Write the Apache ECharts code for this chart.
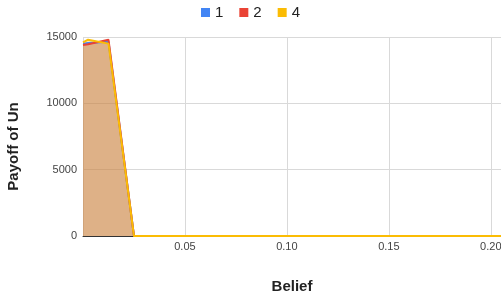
<!DOCTYPE html>
<html>
<head>
<meta charset="utf-8">
<script src="https://cdn.jsdelivr.net/npm/echarts@6/dist/echarts.min.js"></script>
<style>
  html, body { margin: 0; padding: 0; background: #fff; }
  #chart { width: 501px; height: 300px; }
</style>
</head>
<body>
<div id="chart"></div>
<script>
var belief = [0, 0.0025, 0.0125, 0.025, 0.05, 0.1, 0.15, 0.2, 0.205];
var payoff1 = [14500, 14550, 14650, 0, 0, 0, 0, 0, 0];
var payoff2 = [14400, 14450, 14800, 0, 0, 0, 0, 0, 0];
var payoff4 = [14600, 14800, 14500, 0, 0, 0, 0, 0, 0];
var seriesNames = ["1", "2", "4"];
var colors = ["#4285f4", "#ea4335", "#fbbc04"];

function pairs(ys) {
  return belief.map(function (x, i) { return [x, ys[i]]; });
}

var myChart = echarts.init(document.getElementById("chart"));

var allData = [payoff1, payoff2, payoff4];
var series = allData.map(function (ys, i) {
  return {
    name: seriesNames[i],
    type: "line",
    data: pairs(ys),
    symbol: "none",
    lineStyle: { color: colors[i], width: 2 },
    itemStyle: { color: colors[i] },
    areaStyle: { color: colors[i], opacity: 0.3 }
  };
});

var option = {
  animation: false,
  color: colors,
  legend: {
    top: 0,
    left: "center",
    itemWidth: 9,
    itemHeight: 9,
    itemGap: 16,
    itemTextGap: 7,
    icon: "rect",
    textStyle: { fontSize: 15, color: "#222", fontFamily: "Liberation Sans" },
    data: seriesNames
  },
  grid: { left: 83, right: 0, top: 37, bottom: 64, outerBoundsMode: "none", containLabel: false },
  xAxis: {
    type: "value",
    min: 0,
    max: 0.205,
    interval: 0.05,
    name: "Belief",
    nameLocation: "middle",
    nameGap: 43,
    nameTextStyle: { fontSize: 15, fontWeight: "bold", color: "#222", fontFamily: "Liberation Sans" },
    axisLine: { show: true, lineStyle: { color: "#333", width: 1 } },
    axisTick: { show: false },
    axisLabel: {
      showMinLabel: false,
      showMaxLabel: false,
      color: "#444",
      fontSize: 11,
      fontFamily: "Liberation Sans",
      margin: 5,
      formatter: function (v) { return v.toFixed(2); }
    },
    splitLine: { show: true, lineStyle: { color: "#d9d9d9" } }
  },
  yAxis: {
    type: "value",
    min: 0,
    max: 15000,
    interval: 5000,
    name: "Payoff of Un",
    nameLocation: "middle",
    nameGap: 62,
    nameTextStyle: {
      fontSize: 15, fontWeight: "bold", color: "#222", fontFamily: "Liberation Sans",
      padding: [0, 20, 0, 0]
    },
    axisLine: { show: false },
    axisTick: { show: false },
    axisLabel: {
      color: "#444", fontSize: 11, fontFamily: "Liberation Sans", margin: 6,
      formatter: function (v) { return String(v); }
    },
    splitLine: { show: true, lineStyle: { color: "#d9d9d9" } }
  },
  series: series
};

myChart.setOption(option);
</script>
</body>
</html>
